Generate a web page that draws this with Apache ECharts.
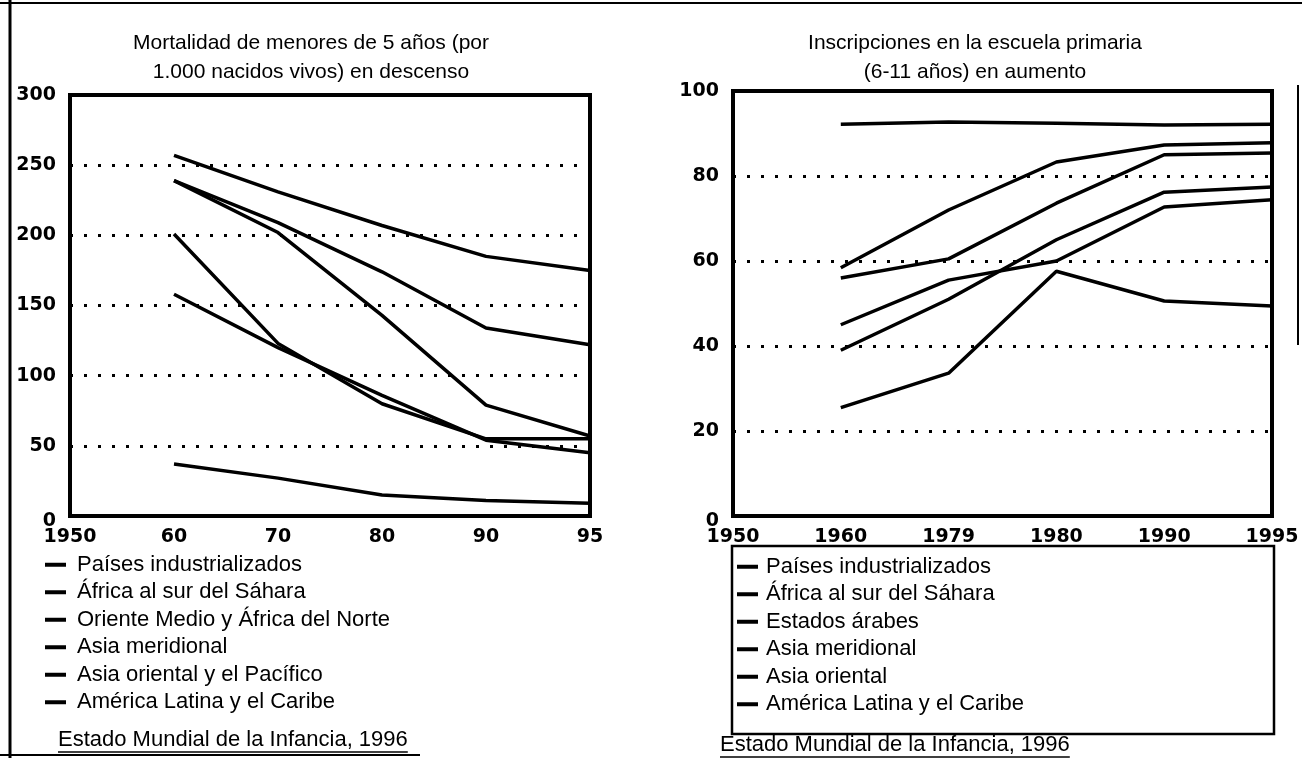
<!DOCTYPE html>
<html><head><meta charset="utf-8">
<script src="https://cdn.jsdelivr.net/npm/echarts@6/dist/echarts.min.js"></script>
<style>html,body{margin:0;padding:0;background:#fff}#c{width:1302px;height:758px}</style>
</head><body><div id="c"></div>
<script>
// ---------- data ----------
const catsLeft  = ['1950', '60', '70', '80', '90', '95'];
const catsRight = ['1950', '1960', '1979', '1980', '1990', '1995'];

const namesLeft = ['Países industrializados', 'África al sur del Sáhara', 'Oriente Medio y África del Norte',
                   'Asia meridional', 'Asia oriental y el Pacífico', 'América Latina y el Caribe'];
const namesRight = ['Países industrializados', 'África al sur del Sáhara', 'Estados árabes',
                    'Asia meridional', 'Asia oriental', 'América Latina y el Caribe'];

// Mortalidad de menores de 5 años (por 1.000 nacidos vivos)
const mortIndustrial = [null, 37, 27, 15, 11, 9];
const mortAfrica     = [null, 257, 231, 207, 185, 175];
const mortMENA       = [null, 239, 202, 143, 79, 57];
const mortSouthAsia  = [null, 239, 209, 174, 134, 122];
const mortEastAsia   = [null, 201, 123, 80, 55, 55];
const mortLatAm      = [null, 158, 120, 86, 54, 45];

// Inscripciones en la escuela primaria (6-11 años), %
const enrIndustrial = [null, 92.2, 92.7, 92.4, 92.0, 92.2];
const enrAfrica     = [null, 25.5, 33.6, 57.6, 50.6, 49.4];
const enrArab       = [null, 39, 51, 65, 76.2, 77.4];
const enrSouthAsia  = [null, 45, 55.5, 60, 72.7, 74.4];
const enrEastAsia   = [null, 56, 60.5, 73.6, 85, 85.4];
const enrLatAm      = [null, 58.4, 72, 83.3, 87.3, 87.8];

const titleLeft  = 'Mortalidad de menores de 5 años (por\n1.000 nacidos vivos) en descenso';
const titleRight = 'Inscripciones en la escuela primaria\n(6-11 años) en aumento';
const sourceText = 'Estado Mundial de la Infancia, 1996';

// ---------- style ----------
const TXT = "'Liberation Sans', Arial, sans-serif";
const NUM = "'DejaVu Sans', sans-serif";
const TITLE_SIZE = 21;
const TXT_SIZE = 22;
const NUM_SIZE = 19;

function measure(text, font) {
  const c = document.createElement('canvas').getContext('2d');
  c.font = font; return c.measureText(text).width;
}
const srcFont = TXT_SIZE + "px 'Liberation Sans'";
const srcW = measure(sourceText, srcFont);

const numLabel = { fontFamily: NUM, fontWeight: 'bold', fontSize: NUM_SIZE, color: '#000' };

function yLabel() {
  return Object.assign({}, numLabel, {
    margin: 14,
    formatter: v => v === 0 ? '{z|0}' : String(v),
    rich: { z: Object.assign({ padding: [10, 0, 0, 0] }, numLabel) }
  });
}

function lineSeries(name, data, idx) {
  return {
    name: name, type: 'line', data: data, xAxisIndex: idx, yAxisIndex: idx,
    symbol: 'none', connectNulls: false, silent: true,
    lineStyle: { color: '#000', width: 3.5 }, itemStyle: { color: '#000' }
  };
}

function legendBase(pad) {
  return {
    orient: 'vertical', icon: 'rect', itemWidth: 21, itemHeight: 4, itemGap: 0, padding: 0,
    selectedMode: false,
    textStyle: { fontFamily: TXT, fontSize: TXT_SIZE, color: '#000', lineHeight: 27.5, padding: [0, 0, 0, pad] }
  };
}

const titleStyle = { fontFamily: TXT, fontSize: TITLE_SIZE, fontWeight: 'normal', color: '#000', lineHeight: 29 };
const splitStyle = { show: true, lineStyle: { color: '#000', width: 3, type: [3, 11] } };

const option = {
  animation: false,
  backgroundColor: '#fff',
  title: [
    { text: titleLeft, left: 306, top: 24, textAlign: 'center', textStyle: titleStyle },
    { text: titleRight, left: 970, top: 24, textAlign: 'center', textStyle: titleStyle }
  ],
  grid: [
    { left: 70, width: 520, top: 95, height: 421, show: true, borderColor: '#000', borderWidth: 4 },
    { left: 733, width: 539, top: 91, height: 425, show: true, borderColor: '#000', borderWidth: 4 }
  ],
  xAxis: [
    { type: 'category', gridIndex: 0, data: catsLeft, boundaryGap: false,
      axisLine: { show: false }, axisTick: { show: false }, splitLine: { show: false },
      axisLabel: Object.assign({ margin: 12, interval: 0 }, numLabel) },
    { type: 'category', gridIndex: 1, data: catsRight, boundaryGap: false,
      axisLine: { show: false }, axisTick: { show: false }, splitLine: { show: false },
      axisLabel: Object.assign({ margin: 12, interval: 0 }, numLabel) }
  ],
  yAxis: [
    { type: 'value', gridIndex: 0, min: 0, max: 300, interval: 50,
      axisLine: { show: false }, axisTick: { show: false }, splitLine: splitStyle, axisLabel: yLabel() },
    { type: 'value', gridIndex: 1, min: 0, max: 100, interval: 20,
      axisLine: { show: false }, axisTick: { show: false }, splitLine: splitStyle, axisLabel: yLabel() }
  ],
  legend: [
    Object.assign({ left: 45, top: 551, data: namesLeft }, legendBase(6)),
    Object.assign({ left: 737, top: 553, data: namesRight }, legendBase(3))
  ],
  series: [
    lineSeries(namesLeft[0], mortIndustrial, 0),
    lineSeries(namesLeft[1], mortAfrica, 0),
    lineSeries(namesLeft[2], mortMENA, 0),
    lineSeries(namesLeft[3], mortSouthAsia, 0),
    lineSeries(namesLeft[4], mortEastAsia, 0),
    lineSeries(namesLeft[5], mortLatAm, 0),
    lineSeries(namesRight[0], enrIndustrial, 1),
    lineSeries(namesRight[1], enrAfrica, 1),
    lineSeries(namesRight[2], enrArab, 1),
    lineSeries(namesRight[3], enrSouthAsia, 1),
    lineSeries(namesRight[4], enrEastAsia, 1),
    lineSeries(namesRight[5], enrLatAm, 1)
  ],
  graphic: [
    // page frame (scanned sheet border)
    { type: 'line', shape: { x1: 10, y1: 0, x2: 10, y2: 758 }, style: { stroke: '#000', lineWidth: 3 } },
    { type: 'line', shape: { x1: 0, y1: 3, x2: 1302, y2: 3 }, style: { stroke: '#000', lineWidth: 2 } },
    { type: 'line', shape: { x1: 1298, y1: 85, x2: 1298, y2: 345 }, style: { stroke: '#000', lineWidth: 2 } },
    { type: 'line', shape: { x1: 0, y1: 755, x2: 420, y2: 755 }, style: { stroke: '#000', lineWidth: 2 } },
    // legend box on the right
    { type: 'rect', shape: { x: 732, y: 546, width: 542, height: 188 },
      style: { fill: 'none', stroke: '#000', lineWidth: 2.5 } },
    // sources
    { type: 'text', x: 58, y: 729, style: { text: sourceText, font: srcFont, fill: '#000' } },
    { type: 'line', shape: { x1: 58, y1: 752, x2: 58 + srcW, y2: 752 }, style: { stroke: '#000', lineWidth: 1.5 } },
    { type: 'text', x: 720, y: 734, style: { text: sourceText, font: srcFont, fill: '#000' } },
    { type: 'line', shape: { x1: 720, y1: 757, x2: 720 + srcW, y2: 757 }, style: { stroke: '#000', lineWidth: 1.5 } }
  ]
};

const chart = echarts.init(document.getElementById('c'), null, { renderer: 'canvas' });
chart.setOption(option);
</script></body></html>
